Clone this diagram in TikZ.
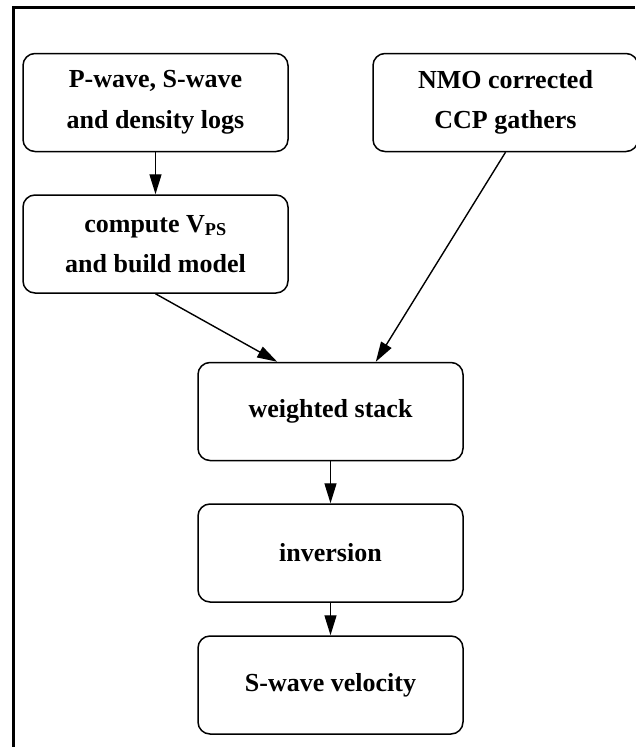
\documentclass[tikz,border=0pt]{standalone}
\usepackage{fontspec}
\setmainfont{Liberation Serif}
\usetikzlibrary{arrows.meta,calc}
\begin{document}
\begin{tikzpicture}[x=1pt,y=-1pt,
  stage/.style={draw, line width=1.5pt, rounded corners=12pt,
    minimum width=265pt, minimum height=98pt, inner sep=0pt,
    align=center, font=\bfseries\fontsize{26}{40.5}\selectfont},
  flow/.style={-{Triangle[length=20pt,width=12pt]}, line width=1.4pt}]
\useasboundingbox (0,0) rectangle (635,747);

% outer frame (left and top edges)
\draw[line width=3pt] (13.5,747) -- (13.5,7.5) -- (635,7.5);

% processing stages
\node[stage] (logs)  at (155.5,102.5) {P-wave, S-wave\\and density logs};
\node[stage] (model) at (155.5,244)   {compute V\textsubscript{PS}\\and build model};
\node[stage] (nmo)   at (505.5,102.5) {NMO corrected\\CCP gathers};
\node[stage] (stack) at (330.5,411.5) {weighted stack};
\node[stage] (inv)   at (330.5,553)   {inversion};
\node[stage] (vs)    at (330.5,685)   {S-wave velocity};

% data flow
\draw[flow] (logs.south) -- (model.north);
\draw[flow] (model.south) -- ($(stack.north west)!0.30!(stack.north east)$);
\draw[flow] (nmo.south) -- ($(stack.north west)!0.67!(stack.north east)$);
\draw[flow] (stack.south) -- (inv.north);
\draw[flow] (inv.south) -- (vs.north);
\end{tikzpicture}
\end{document}
